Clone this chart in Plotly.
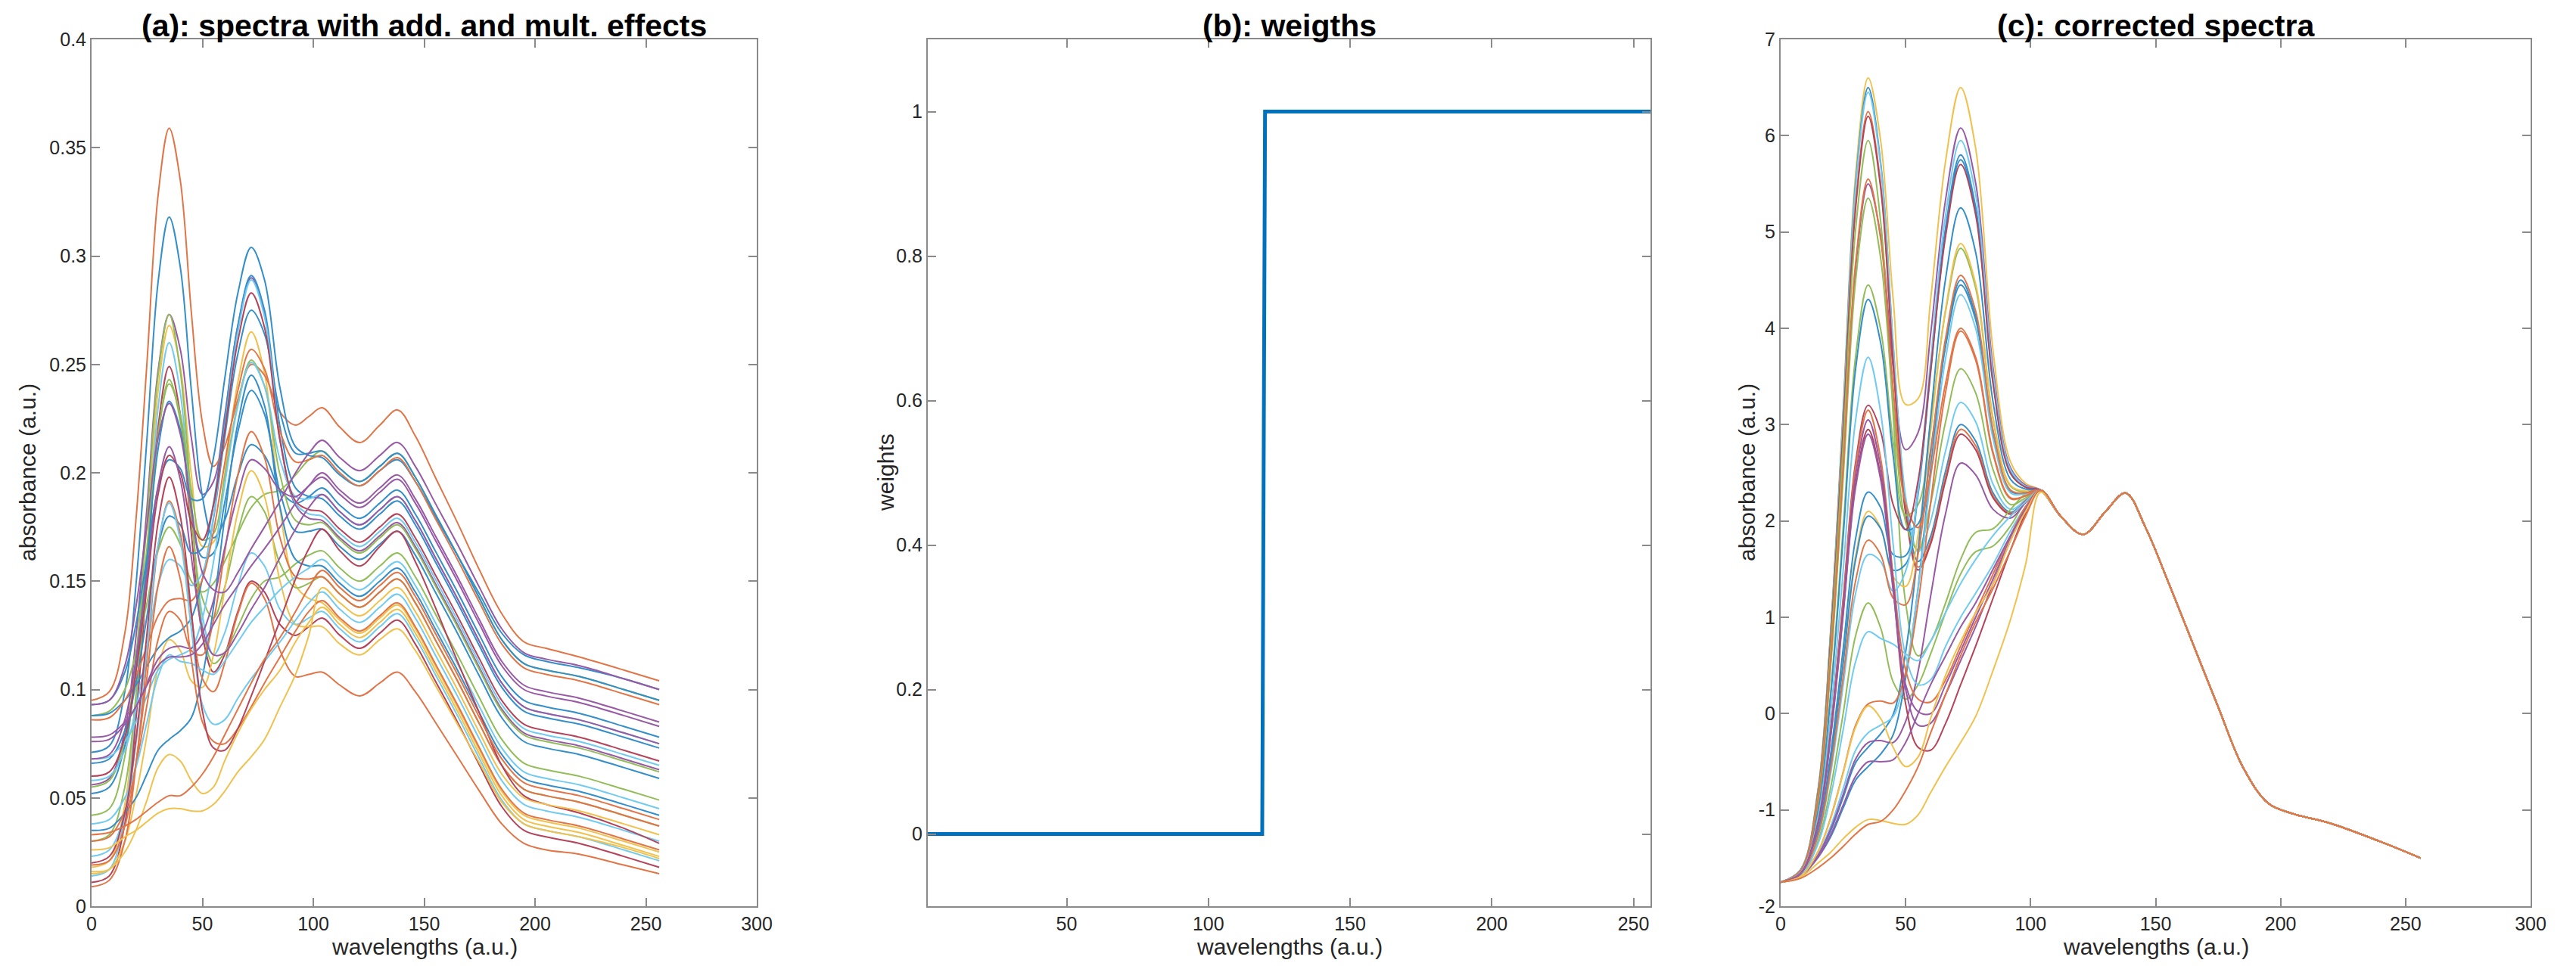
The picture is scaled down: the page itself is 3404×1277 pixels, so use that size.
import plotly.graph_objects as go

# wavelength positions the curves were read at (a.u.)
wl_head = [0, 8, 15, 20, 25, 30, 35, 40, 45, 50, 55, 60, 66, 72, 78, 85, 92, 98, 104]
wl_tail = [112, 121, 130, 138, 146, 155, 165, 175, 185, 195, 205, 220, 240, 256]

# (a) raw spectra, absorbance at wl_head + wl_tail
raw_01 = [0.018,0.021,0.047,0.096,0.165,0.238,0.268,0.249,0.199,0.166,0.168,0.199,0.242,0.265,0.246,0.183,0.148,0.142,0.140,0.132,0.126,0.133,0.139,0.128,0.111,0.092,0.072,0.053,0.042,0.039,0.036,0.030,0.025]
raw_02 = [0.056,0.059,0.081,0.124,0.184,0.247,0.273,0.257,0.216,0.190,0.196,0.226,0.268,0.290,0.273,0.215,0.185,0.179,0.178,0.170,0.164,0.171,0.177,0.166,0.149,0.130,0.110,0.091,0.080,0.077,0.074,0.068,0.063]
raw_03 = [0.071,0.074,0.099,0.148,0.216,0.288,0.318,0.295,0.238,0.189,0.170,0.178,0.199,0.213,0.208,0.192,0.186,0.189,0.193,0.185,0.179,0.186,0.192,0.181,0.164,0.145,0.125,0.106,0.095,0.092,0.089,0.083,0.078]
raw_04 = [0.014,0.017,0.042,0.091,0.158,0.230,0.260,0.237,0.181,0.134,0.116,0.126,0.148,0.163,0.157,0.137,0.130,0.133,0.136,0.128,0.122,0.129,0.135,0.124,0.107,0.088,0.068,0.049,0.038,0.035,0.032,0.026,0.021]
raw_05 = [0.095,0.099,0.126,0.178,0.251,0.328,0.359,0.335,0.274,0.223,0.203,0.212,0.234,0.250,0.245,0.228,0.222,0.226,0.230,0.221,0.214,0.222,0.229,0.217,0.198,0.177,0.155,0.135,0.122,0.119,0.115,0.109,0.104]
raw_06 = [0.011,0.014,0.038,0.086,0.151,0.221,0.249,0.227,0.172,0.125,0.108,0.116,0.136,0.150,0.145,0.130,0.125,0.129,0.133,0.125,0.119,0.126,0.132,0.121,0.104,0.085,0.065,0.046,0.035,0.032,0.029,0.023,0.018]
raw_07 = [0.042,0.045,0.069,0.114,0.178,0.245,0.273,0.247,0.187,0.129,0.112,0.117,0.129,0.142,0.150,0.152,0.158,0.162,0.164,0.156,0.150,0.157,0.163,0.152,0.135,0.116,0.096,0.077,0.066,0.063,0.060,0.054,0.049]
raw_08 = [0.030,0.033,0.055,0.097,0.155,0.217,0.243,0.224,0.178,0.142,0.133,0.147,0.173,0.189,0.182,0.158,0.147,0.149,0.152,0.144,0.138,0.145,0.151,0.140,0.123,0.104,0.084,0.065,0.054,0.051,0.048,0.042,0.037]
raw_09 = [0.055,0.058,0.077,0.114,0.165,0.218,0.241,0.227,0.192,0.169,0.172,0.198,0.232,0.252,0.240,0.199,0.178,0.176,0.177,0.169,0.163,0.170,0.176,0.165,0.148,0.129,0.109,0.090,0.079,0.076,0.073,0.067,0.062]
raw_10 = [0.088,0.090,0.100,0.117,0.140,0.164,0.175,0.167,0.150,0.145,0.149,0.159,0.172,0.184,0.190,0.192,0.199,0.206,0.210,0.202,0.196,0.203,0.209,0.198,0.181,0.162,0.142,0.123,0.112,0.109,0.106,0.100,0.095]
raw_11 = [0.015,0.017,0.030,0.051,0.079,0.110,0.123,0.118,0.104,0.101,0.116,0.146,0.182,0.201,0.189,0.150,0.130,0.129,0.129,0.121,0.116,0.123,0.128,0.118,0.102,0.084,0.066,0.048,0.038,0.035,0.032,0.027,0.022]
raw_12 = [0.052,0.055,0.074,0.109,0.159,0.211,0.233,0.220,0.184,0.161,0.163,0.186,0.219,0.238,0.227,0.191,0.173,0.173,0.174,0.166,0.160,0.167,0.173,0.162,0.145,0.126,0.106,0.087,0.076,0.073,0.070,0.064,0.059]
raw_13 = [0.093,0.095,0.108,0.130,0.161,0.193,0.206,0.202,0.188,0.188,0.207,0.243,0.283,0.304,0.289,0.239,0.212,0.208,0.207,0.199,0.194,0.201,0.206,0.196,0.180,0.162,0.144,0.126,0.116,0.113,0.110,0.105,0.100]
raw_14 = [0.066,0.068,0.081,0.103,0.134,0.166,0.180,0.176,0.163,0.165,0.186,0.224,0.268,0.291,0.275,0.221,0.193,0.189,0.188,0.180,0.174,0.181,0.187,0.176,0.159,0.140,0.120,0.101,0.090,0.087,0.084,0.078,0.073]
raw_15 = [0.035,0.036,0.043,0.050,0.061,0.072,0.077,0.081,0.087,0.106,0.138,0.179,0.223,0.245,0.231,0.184,0.160,0.157,0.157,0.149,0.143,0.150,0.156,0.145,0.128,0.109,0.089,0.070,0.059,0.056,0.053,0.047,0.042]
raw_16 = [0.088,0.089,0.095,0.102,0.111,0.119,0.124,0.127,0.133,0.151,0.179,0.216,0.255,0.275,0.264,0.228,0.209,0.209,0.210,0.202,0.196,0.203,0.209,0.198,0.181,0.162,0.142,0.123,0.112,0.109,0.106,0.100,0.095]
raw_17 = [0.058,0.060,0.072,0.091,0.119,0.148,0.160,0.157,0.148,0.154,0.180,0.220,0.265,0.289,0.272,0.216,0.186,0.181,0.180,0.172,0.166,0.173,0.179,0.168,0.151,0.132,0.112,0.093,0.082,0.079,0.076,0.070,0.065]
raw_18 = [0.068,0.069,0.076,0.085,0.097,0.109,0.114,0.116,0.119,0.133,0.159,0.194,0.231,0.251,0.240,0.206,0.189,0.188,0.190,0.182,0.176,0.183,0.189,0.178,0.161,0.142,0.122,0.103,0.092,0.089,0.086,0.080,0.075]
raw_19 = [0.030,0.032,0.044,0.065,0.093,0.123,0.136,0.132,0.118,0.116,0.132,0.163,0.199,0.219,0.207,0.170,0.152,0.151,0.152,0.144,0.138,0.145,0.151,0.140,0.123,0.104,0.084,0.065,0.054,0.051,0.048,0.042,0.037]
raw_20 = [0.086,0.087,0.095,0.106,0.120,0.134,0.141,0.142,0.141,0.151,0.173,0.204,0.238,0.257,0.248,0.219,0.205,0.206,0.208,0.200,0.194,0.201,0.207,0.196,0.179,0.160,0.140,0.121,0.110,0.107,0.104,0.098,0.093]
raw_21 = [0.009,0.012,0.030,0.065,0.114,0.166,0.187,0.172,0.134,0.105,0.099,0.112,0.135,0.149,0.142,0.118,0.106,0.107,0.108,0.102,0.097,0.103,0.108,0.099,0.085,0.069,0.053,0.038,0.029,0.026,0.024,0.019,0.015]
raw_22 = [0.060,0.062,0.078,0.108,0.148,0.190,0.208,0.200,0.177,0.169,0.185,0.219,0.261,0.283,0.267,0.215,0.187,0.183,0.182,0.174,0.168,0.175,0.181,0.170,0.153,0.134,0.114,0.095,0.084,0.081,0.078,0.072,0.067]
raw_23 = [0.076,0.077,0.084,0.092,0.103,0.114,0.119,0.120,0.119,0.126,0.141,0.165,0.190,0.206,0.202,0.192,0.189,0.194,0.198,0.190,0.184,0.191,0.197,0.186,0.169,0.150,0.130,0.111,0.100,0.097,0.094,0.088,0.083]
raw_24 = [0.023,0.026,0.043,0.075,0.119,0.167,0.186,0.169,0.128,0.093,0.084,0.086,0.096,0.105,0.113,0.122,0.132,0.140,0.145,0.137,0.131,0.138,0.144,0.133,0.116,0.097,0.077,0.058,0.047,0.044,0.041,0.035,0.030]
raw_25 = [0.038,0.040,0.050,0.064,0.085,0.106,0.116,0.113,0.112,0.109,0.107,0.113,0.122,0.131,0.138,0.146,0.152,0.156,0.160,0.152,0.146,0.153,0.159,0.148,0.131,0.112,0.092,0.073,0.062,0.059,0.056,0.050,0.045]
raw_26 = [0.019,0.021,0.037,0.066,0.106,0.148,0.166,0.151,0.114,0.085,0.076,0.075,0.082,0.092,0.103,0.115,0.127,0.136,0.141,0.133,0.127,0.134,0.140,0.129,0.112,0.093,0.073,0.054,0.043,0.040,0.037,0.031,0.026]
raw_27 = [0.068,0.070,0.086,0.114,0.153,0.194,0.212,0.197,0.161,0.128,0.116,0.117,0.126,0.137,0.147,0.161,0.174,0.184,0.190,0.182,0.176,0.183,0.189,0.178,0.161,0.142,0.122,0.103,0.092,0.089,0.086,0.080,0.075]
raw_28 = [0.020,0.023,0.043,0.077,0.126,0.177,0.198,0.180,0.136,0.090,0.073,0.072,0.082,0.097,0.113,0.132,0.151,0.165,0.174,0.164,0.157,0.166,0.173,0.159,0.138,0.113,0.089,0.065,0.051,0.047,0.043,0.036,0.029]
raw_29 = [0.093,0.095,0.111,0.138,0.176,0.216,0.232,0.218,0.183,0.154,0.146,0.145,0.154,0.165,0.175,0.187,0.200,0.209,0.215,0.207,0.201,0.208,0.214,0.203,0.186,0.167,0.147,0.128,0.117,0.114,0.111,0.105,0.100]
raw_30 = [0.078,0.079,0.085,0.092,0.102,0.111,0.115,0.115,0.116,0.121,0.130,0.139,0.148,0.157,0.165,0.175,0.186,0.194,0.200,0.192,0.186,0.193,0.199,0.188,0.171,0.152,0.132,0.113,0.102,0.099,0.096,0.090,0.085]
raw_31 = [0.026,0.027,0.032,0.035,0.039,0.043,0.045,0.045,0.044,0.044,0.047,0.053,0.062,0.069,0.077,0.092,0.107,0.125,0.147,0.140,0.134,0.141,0.147,0.136,0.119,0.100,0.080,0.061,0.050,0.047,0.044,0.038,0.033]
raw_32 = [0.016,0.017,0.025,0.035,0.049,0.064,0.070,0.067,0.058,0.052,0.055,0.067,0.080,0.091,0.100,0.109,0.122,0.131,0.138,0.130,0.124,0.131,0.137,0.126,0.109,0.090,0.070,0.051,0.040,0.037,0.034,0.028,0.023]
raw_33 = [0.033,0.034,0.037,0.040,0.044,0.048,0.051,0.051,0.055,0.061,0.069,0.079,0.091,0.103,0.114,0.124,0.136,0.147,0.155,0.147,0.141,0.148,0.154,0.143,0.126,0.107,0.087,0.068,0.057,0.054,0.051,0.045,0.040]

# (c) corrected spectra at wl_head; beyond 104 they all follow corr_tail
corr_01 = [-1.75,-1.62,-0.78,0.87,3.16,5.60,6.60,5.95,4.31,3.21,3.27,4.30,5.74,6.50,5.87,3.76,2.61,2.39,2.32]
corr_02 = [-1.75,-1.63,-0.89,0.54,2.53,4.63,5.50,4.96,3.60,2.74,2.92,3.94,5.34,6.08,5.51,3.58,2.55,2.37,2.32]
corr_03 = [-1.75,-1.62,-0.79,0.84,3.11,5.51,6.50,5.72,3.83,2.20,1.58,1.84,2.52,3.00,2.83,2.29,2.09,2.21,2.32]
corr_04 = [-1.75,-1.62,-0.79,0.82,3.08,5.47,6.45,5.69,3.83,2.25,1.68,2.00,2.73,3.23,3.03,2.38,2.12,2.22,2.32]
corr_05 = [-1.75,-1.63,-0.81,0.76,2.96,5.29,6.25,5.50,3.67,2.11,1.52,1.79,2.46,2.95,2.78,2.26,2.08,2.21,2.32]
corr_06 = [-1.75,-1.63,-0.82,0.75,2.93,5.25,6.20,5.46,3.64,2.08,1.49,1.76,2.42,2.90,2.74,2.24,2.07,2.21,2.32]
corr_07 = [-1.75,-1.63,-0.84,0.67,2.79,5.03,5.95,5.11,3.11,1.15,0.60,0.75,1.15,1.60,1.88,1.92,2.12,2.28,2.32]
corr_08 = [-1.75,-1.64,-0.90,0.49,2.44,4.50,5.35,4.73,3.21,1.99,1.70,2.18,3.03,3.58,3.33,2.53,2.17,2.24,2.32]
corr_09 = [-1.75,-1.64,-0.99,0.22,1.92,3.71,4.45,3.99,2.82,2.06,2.17,3.02,4.18,4.83,4.42,3.05,2.36,2.30,2.32]
corr_10 = [-1.75,-1.68,-1.32,-0.77,0.00,0.81,1.15,0.89,0.33,0.15,0.30,0.62,1.05,1.45,1.68,1.74,1.95,2.20,2.32]
corr_11 = [-1.75,-1.67,-1.23,-0.48,0.55,1.64,2.10,1.93,1.42,1.32,1.86,2.93,4.20,4.88,4.46,3.07,2.37,2.31,2.32]
corr_12 = [-1.75,-1.65,-1.01,0.18,1.83,3.58,4.30,3.85,2.68,1.91,1.97,2.74,3.82,4.45,4.09,2.89,2.31,2.29,2.32]
corr_13 = [-1.75,-1.67,-1.21,-0.42,0.67,1.82,2.30,2.14,1.65,1.64,2.33,3.59,5.05,5.80,5.26,3.46,2.51,2.35,2.32]
corr_14 = [-1.75,-1.67,-1.23,-0.50,0.52,1.60,2.05,1.92,1.49,1.55,2.28,3.54,5.00,5.75,5.22,3.44,2.50,2.35,2.32]
corr_15 = [-1.75,-1.69,-1.47,-1.22,-0.87,-0.51,-0.35,-0.21,-0.01,0.64,1.70,3.07,4.52,5.25,4.79,3.23,2.43,2.33,2.32]
corr_16 = [-1.75,-1.69,-1.49,-1.28,-0.98,-0.69,-0.55,-0.42,-0.22,0.37,1.31,2.54,3.83,4.50,4.13,2.92,2.31,2.29,2.32]
corr_17 = [-1.75,-1.67,-1.27,-0.62,0.29,1.25,1.65,1.58,1.27,1.48,2.32,3.66,5.18,5.95,5.39,3.52,2.53,2.36,2.32]
corr_18 = [-1.75,-1.69,-1.46,-1.17,-0.78,-0.38,-0.20,-0.12,-0.03,0.44,1.29,2.45,3.69,4.35,4.00,2.85,2.29,2.28,2.32]
corr_19 = [-1.75,-1.67,-1.26,-0.57,0.38,1.38,1.80,1.65,1.20,1.13,1.66,2.69,3.90,4.55,4.18,2.94,2.32,2.29,2.32]
corr_20 = [-1.75,-1.69,-1.43,-1.08,-0.61,-0.12,0.10,0.13,0.11,0.42,1.15,2.19,3.34,3.97,3.67,2.69,2.23,2.26,2.32]
corr_21 = [-1.75,-1.63,-0.88,0.55,2.55,4.68,5.55,4.93,3.38,2.18,1.93,2.49,3.43,4.00,3.70,2.71,2.24,2.26,2.32]
corr_22 = [-1.75,-1.66,-1.12,-0.15,1.19,2.61,3.20,2.93,2.17,1.91,2.42,3.57,4.96,5.70,5.18,3.42,2.49,2.35,2.32]
corr_23 = [-1.75,-1.69,-1.47,-1.20,-0.84,-0.47,-0.30,-0.28,-0.30,-0.08,0.44,1.22,2.08,2.60,2.48,2.12,2.03,2.19,2.32]
corr_24 = [-1.75,-1.65,-1.07,0.00,1.48,3.05,3.70,3.13,1.76,0.60,0.30,0.35,0.70,1.00,1.25,1.55,1.90,2.15,2.32]
corr_25 = [-1.75,-1.68,-1.35,-0.86,-0.17,0.54,0.85,0.78,0.72,0.62,0.55,0.75,1.05,1.35,1.60,1.85,2.05,2.20,2.32]
corr_26 = [-1.75,-1.66,-1.12,-0.17,1.16,2.57,3.15,2.65,1.43,0.45,0.15,0.12,0.35,0.70,1.05,1.45,1.85,2.15,2.32]
corr_27 = [-1.75,-1.66,-1.13,-0.20,1.10,2.48,3.05,2.56,1.37,0.25,-0.12,-0.10,0.20,0.55,0.90,1.35,1.80,2.12,2.32]
corr_28 = [-1.75,-1.66,-1.14,-0.23,1.05,2.39,2.95,2.47,1.31,0.10,-0.35,-0.38,-0.10,0.30,0.70,1.20,1.70,2.08,2.32]
corr_29 = [-1.75,-1.66,-1.15,-0.24,1.02,2.35,2.90,2.43,1.28,0.30,0.02,0.00,0.30,0.65,1.00,1.40,1.82,2.12,2.32]
corr_30 = [-1.75,-1.69,-1.49,-1.26,-0.95,-0.65,-0.50,-0.50,-0.48,-0.30,0.00,0.30,0.60,0.90,1.15,1.50,1.85,2.12,2.32]
corr_31 = [-1.75,-1.70,-1.55,-1.44,-1.30,-1.18,-1.10,-1.11,-1.14,-1.15,-1.05,-0.82,-0.55,-0.30,-0.03,0.45,0.98,1.55,2.30]
corr_32 = [-1.75,-1.69,-1.43,-1.09,-0.62,-0.14,0.08,-0.05,-0.35,-0.55,-0.45,-0.05,0.40,0.75,1.05,1.35,1.80,2.10,2.32]
corr_33 = [-1.75,-1.71,-1.60,-1.50,-1.38,-1.25,-1.15,-1.12,-1.00,-0.80,-0.55,-0.20,0.20,0.60,0.95,1.30,1.70,2.05,2.32]
corr_tail = [2.05, 1.86, 2.10, 2.29, 1.93, 1.37, 0.72, 0.07, -0.56, -0.93, -1.04, -1.14, -1.33, -1.50]

# (b) weights
weights_x = [1, 119, 120, 256]
weights_y = [0, 0, 1, 1]

# matlab line colours, a little washed out like the scanned figure
BL, OR, YE, PU = '#338ECA', '#E17547', '#F1C14D', '#9859A5'
GR, CY, DR = '#92BD59', '#71CBF1', '#B54359'
spec_colors = [YE, PU, BL, CY, OR, DR, GR, GR, GR, GR, YE, BL, BL, BL, BL, BL, CY,
               CY, OR, OR, OR, DR, PU, CY, CY, OR, PU, DR, PU, PU, YE, YE, OR]

raw_spectra = [raw_01, raw_02, raw_03, raw_04, raw_05, raw_06, raw_07, raw_08, raw_09, raw_10, raw_11,
               raw_12, raw_13, raw_14, raw_15, raw_16, raw_17, raw_18, raw_19, raw_20, raw_21, raw_22,
               raw_23, raw_24, raw_25, raw_26, raw_27, raw_28, raw_29, raw_30, raw_31, raw_32, raw_33]
corr_spectra = [corr_01, corr_02, corr_03, corr_04, corr_05, corr_06, corr_07, corr_08, corr_09, corr_10, corr_11,
                corr_12, corr_13, corr_14, corr_15, corr_16, corr_17, corr_18, corr_19, corr_20, corr_21, corr_22,
                corr_23, corr_24, corr_25, corr_26, corr_27, corr_28, corr_29, corr_30, corr_31, corr_32, corr_33]

ticks_a_x = [0, 50, 100, 150, 200, 250, 300]
ticks_a_y = [0, 0.05, 0.1, 0.15, 0.2, 0.25, 0.3, 0.35, 0.4]
ticktext_a_y = ['0', '0.05', '0.1', '0.15', '0.2', '0.25', '0.3', '0.35', '0.4']
ticks_b_x = [50, 100, 150, 200, 250]
ticks_b_y = [0, 0.2, 0.4, 0.6, 0.8, 1]
ticktext_b_y = ['0', '0.2', '0.4', '0.6', '0.8', '1']
ticks_c_y = [-2, -1, 0, 1, 2, 3, 4, 5, 6, 7]
ticktext_c_y = ['-2', '-1', '0', '1', '2', '3', '4', '5', '6', '7']

FONT = 'Liberation Sans, Arial, Helvetica, sans-serif'
W, H = 3404, 1277

fig = go.Figure()
wl_full = wl_head + wl_tail
for y, c in zip(raw_spectra, spec_colors):
    fig.add_trace(go.Scatter(x=wl_full, y=y, mode='lines', xaxis='x', yaxis='y',
                             line=dict(color=c, width=2, shape='spline')))
fig.add_trace(go.Scatter(x=weights_x, y=weights_y, mode='lines', xaxis='x2', yaxis='y2',
                         line=dict(color='#0072BD', width=5)))
for y, c in zip(corr_spectra, spec_colors):
    fig.add_trace(go.Scatter(x=wl_full, y=y + corr_tail, mode='lines', xaxis='x3', yaxis='y3',
                             line=dict(color=c, width=2, shape='spline')))

ax = dict(showline=True, linecolor='#8a8a8a', linewidth=2, mirror='allticks', ticks='inside',
          ticklen=11, tickwidth=2, tickcolor='#8a8a8a', showgrid=False, zeroline=False,
          automargin=False, tickfont=dict(family=FONT, size=25, color='#262626'))
dom_a = [113 / W, 992 / W]
dom_b = [1218 / W, 2173 / W]
dom_c = [2345 / W, 3336 / W]
dom_y = [1 - 1190 / H, 1 - 44 / H]

fig.update_layout(
    width=W, height=H, margin=dict(l=0, r=0, t=0, b=0),
    paper_bgcolor='white', plot_bgcolor='white', showlegend=False,
    xaxis=dict(ax, domain=dom_a, range=[0, 300], tickvals=ticks_a_x, anchor='y'),
    yaxis=dict(ax, domain=dom_y, range=[0, 0.4], tickvals=ticks_a_y, ticktext=ticktext_a_y, anchor='x'),
    xaxis2=dict(ax, domain=dom_b, range=[1, 256], tickvals=ticks_b_x, anchor='y2'),
    yaxis2=dict(ax, domain=dom_y, range=[-0.1, 1.1], tickvals=ticks_b_y, ticktext=ticktext_b_y, anchor='x2'),
    xaxis3=dict(ax, domain=dom_c, range=[0, 300], tickvals=ticks_a_x, anchor='y3'),
    yaxis3=dict(ax, domain=dom_y, range=[-2, 7], tickvals=ticks_c_y, ticktext=ticktext_c_y, anchor='x3'),
)

titles = ['(a): spectra with add. and mult. effects', '(b): weigths', '(c): corrected spectra']
ylabels = ['absorbance (a.u.)', 'weights', 'absorbance (a.u.)']
ylabel_x = [28, 1162, 2300]
for dom, t, yl, yx in zip([dom_a, dom_b, dom_c], titles, ylabels, ylabel_x):
    mid = (dom[0] + dom[1]) / 2
    fig.add_annotation(text='<b>' + t + '</b>', x=mid, y=1 - 1 / H, xref='paper', yref='paper',
                       showarrow=False, xanchor='center', yanchor='top',
                       font=dict(family=FONT, size=41, color='black'))
    fig.add_annotation(text='wavelengths (a.u.)', x=mid, y=1 - 1243 / H, xref='paper', yref='paper',
                       showarrow=False, xanchor='center', yanchor='middle',
                       font=dict(family=FONT, size=30, color='#262626'))
    fig.add_annotation(text=yl, x=yx / W, y=(dom_y[0] + dom_y[1]) / 2, xref='paper', yref='paper',
                       showarrow=False, xanchor='center', yanchor='middle', textangle=-90,
                       font=dict(family=FONT, size=30, color='#262626'))

fig.write_html("out.html")
